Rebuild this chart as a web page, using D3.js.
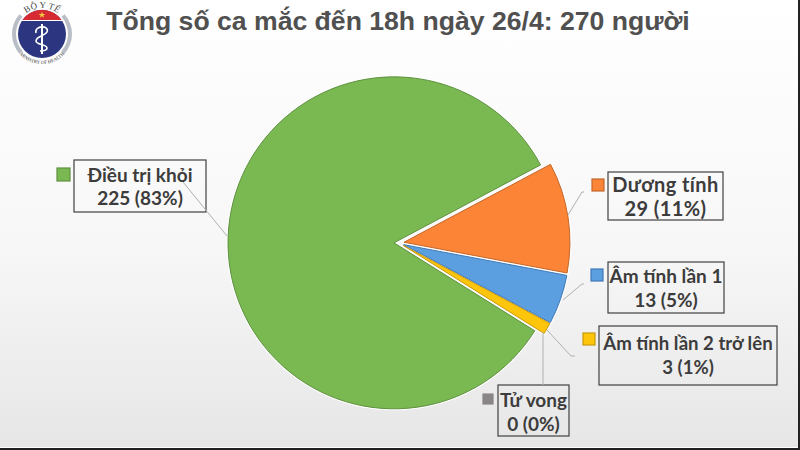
<!DOCTYPE html>
<html>
<head>
<meta charset="utf-8">
<script src="https://cdn.jsdelivr.net/npm/d3@7"></script>
<style>
  html, body { margin: 0; padding: 0; background: #fff; }
  text { font-family: "Lato", "Noto Sans", sans-serif; }
</style>
</head>
<body>
<div id="chart"></div>
<script>
const categories = ['Điều trị khỏi', 'Dương tính', 'Âm tính lần 1', 'Âm tính lần 2 trở lên', 'Tử vong'];
const values = [225, 29, 13, 3, 0];
const percents = ['83%', '11%', '5%', '1%', '0%'];
const colors = ['#7ab851', '#fb8436', '#5c9fe0', '#fec50d', '#8a8688'];
const strokes = ['#5f9140', '#c4672a', '#3f78b4', '#c99a0a', '#8a8688'];

const width = 800, height = 450;
const radius = 166;
const explode = 5;
const start = 122 * Math.PI / 180;
const center = [399, 243];

// label box, legend key, font size, text baselines and leader line for every slice
const labels = [
  { box: [74, 160, 132, 52], key: [57, 168, 13], size: 19, spacing: 0, lines: [182, 205], leader: [[183, 182], [227, 236]] },
  { box: [608, 172, 115, 48], key: [592, 179, 12], size: 20, spacing: 0.4, lines: [192, 216], leader: [[568, 215], [582, 192], [584, 192]] },
  { box: [608, 262, 116, 51], key: [591, 269, 12], size: 19, spacing: 0, lines: [283, 307], leader: [[563, 300], [582, 284], [584, 284]] },
  { box: [599, 326, 178, 59], key: [583, 333, 12], size: 18.6, spacing: 0, lines: [350, 374], leader: [[547, 330], [571, 356], [575, 356]] },
  { box: [498, 385, 71, 51], key: [483, 394, 10], size: 19, spacing: 0, lines: [407, 431], leader: [[543, 332], [543, 385]] }
];

const svg = d3.select('#chart').append('svg')
  .attr('width', width).attr('height', height)
  .style('display', 'block');

const defs = svg.append('defs');
const bg = defs.append('linearGradient')
  .attr('id', 'bg').attr('x1', 0).attr('y1', 0).attr('x2', 0).attr('y2', 1);
bg.append('stop').attr('offset', '0%').attr('stop-color', '#ffffff');
bg.append('stop').attr('offset', '55%').attr('stop-color', '#f7f7f7');
bg.append('stop').attr('offset', '100%').attr('stop-color', '#e6e6e6');

svg.append('rect').attr('width', width).attr('height', height).attr('fill', 'url(#bg)');
svg.append('rect').attr('y', height - 3).attr('width', width).attr('height', 1).attr('fill', '#fff');
svg.append('rect').attr('y', height - 2).attr('width', width).attr('height', 2).attr('fill', '#222');
svg.append('rect').attr('x', width - 2).attr('width', 2).attr('height', height).attr('fill', '#222');

// title
svg.append('text')
  .attr('x', 398).attr('y', 30)
  .attr('text-anchor', 'middle')
  .attr('font-size', 26.6).attr('font-weight', 700)
  .attr('fill', '#505050')
  .style('font-family', '"Liberation Sans", sans-serif')
  .text('Tổng số ca mắc đến 18h ngày 26/4: 270 người');

// pie
const pie = d3.pie().sort(null).value(d => d)
  .startAngle(start).endAngle(start + 2 * Math.PI);
const arc = d3.arc().innerRadius(0).outerRadius(radius);
const slices = pie(values).filter(d => d.data > 0);

function sliceOffset(d) {
  const mid = (d.startAngle + d.endAngle) / 2;
  return `translate(${center[0] + Math.sin(mid) * explode},${center[1] - Math.cos(mid) * explode})`;
}

// white halo first, so the gaps between slices come out white
svg.append('g').selectAll('path')
  .data(slices)
  .enter().append('path')
  .attr('d', arc)
  .attr('fill', 'none')
  .attr('stroke', '#fff')
  .attr('stroke-width', 3)
  .attr('transform', sliceOffset);

svg.append('g').selectAll('path')
  .data(slices)
  .enter().append('path')
  .attr('d', arc)
  .attr('fill', d => colors[d.index])
  .attr('stroke', d => strokes[d.index])
  .attr('stroke-width', 1)
  .attr('stroke-linejoin', 'round')
  .attr('transform', sliceOffset);

// labels
const label = svg.append('g').selectAll('g')
  .data(labels)
  .enter().append('g');

label.append('rect')
  .attr('x', d => d.key[0]).attr('y', d => d.key[1])
  .attr('width', d => d.key[2]).attr('height', d => d.key[2])
  .attr('fill', (d, i) => colors[i])
  .attr('stroke', (d, i) => strokes[i])
  .attr('stroke-width', 1.2);

label.append('rect')
  .attr('x', d => d.box[0]).attr('y', d => d.box[1])
  .attr('width', d => d.box[2]).attr('height', d => d.box[3])
  .attr('fill', 'none')
  .attr('stroke', '#404040')
  .attr('stroke-width', 1.2);

label.append('text')
  .attr('x', d => d.box[0] + d.box[2] / 2)
  .attr('y', d => d.lines[0])
  .attr('text-anchor', 'middle')
  .attr('font-size', d => d.size).attr('font-weight', 700)
  .attr('letter-spacing', d => d.spacing)
  .attr('fill', '#3c3c3c')
  .text((d, i) => categories[i]);

label.append('text')
  .attr('x', d => d.box[0] + d.box[2] / 2)
  .attr('y', d => d.lines[1])
  .attr('text-anchor', 'middle')
  .attr('font-size', d => d.size).attr('font-weight', 700)
  .attr('letter-spacing', d => d.spacing)
  .attr('fill', '#3c3c3c')
  .text((d, i) => `${values[i]} (${percents[i]})`);

// leaders go over the boxes, the first one runs through its label
const line = d3.line();
svg.append('g').selectAll('path')
  .data(labels)
  .enter().append('path')
  .attr('d', d => line(d.leader))
  .attr('fill', 'none')
  .attr('stroke', '#b0b0b0')
  .attr('stroke-width', 1);

// ministry logo
const logo = svg.append('g').attr('transform', 'translate(42,34)');
const logoArc = d3.arc();

[[-2.3, -0.85], [0.85, 2.3]].forEach(([a, b]) => {
  logo.append('path')
    .attr('d', logoArc({ innerRadius: 26, outerRadius: 30, startAngle: a, endAngle: b }))
    .attr('fill', '#b9bec6');
});
logo.append('circle').attr('r', 24).attr('fill', '#2b3580');
logo.append('path')
  .attr('d', 'M-19.6,-14 A24,24 0 0 1 19.6,-14 Z')
  .attr('fill', '#d62b33');
logo.append('line')
  .attr('x1', -20).attr('x2', 20).attr('y1', -13.5).attr('y2', -13.5)
  .attr('stroke', '#fff').attr('stroke-width', 1);
logo.append('path')
  .attr('d', d3.symbol().type(d3.symbolStar).size(14)())
  .attr('transform', 'translate(0,-19)')
  .attr('fill', '#f4d03f');
logo.append('line')
  .attr('x1', 0).attr('y1', -10).attr('x2', 0).attr('y2', 20)
  .attr('stroke', '#fff').attr('stroke-width', 2);
logo.append('path')
  .attr('d', 'M-6,-1 C-8,-9 8,-9 5,-2 C3,2 -6,2 -6,7 C-6,11 5,10 5,14 C5,17 -2,17 -2,17')
  .attr('fill', 'none').attr('stroke', '#fff').attr('stroke-width', 1.6);

defs.append('path').attr('id', 'logoTop').attr('d', 'M-18.4,-18.4 A26,26 0 0 1 18.4,-18.4');
defs.append('path').attr('id', 'logoBottom').attr('d', 'M-22.3,20.1 A30,30 0 0 0 22.3,20.1');

logo.append('text').attr('font-size', 9).attr('fill', '#444').attr('text-anchor', 'middle')
  .style('font-family', '"Liberation Serif", serif')
  .append('textPath').attr('href', '#logoTop').attr('startOffset', '50%').text('BỘ Y TẾ');
logo.append('text').attr('font-size', 4.8).attr('fill', '#333').attr('text-anchor', 'middle')
  .style('font-family', '"Liberation Serif", serif')
  .append('textPath').attr('href', '#logoBottom').attr('startOffset', '50%').text('MINISTRY OF HEALTH');
</script>
</body>
</html>
